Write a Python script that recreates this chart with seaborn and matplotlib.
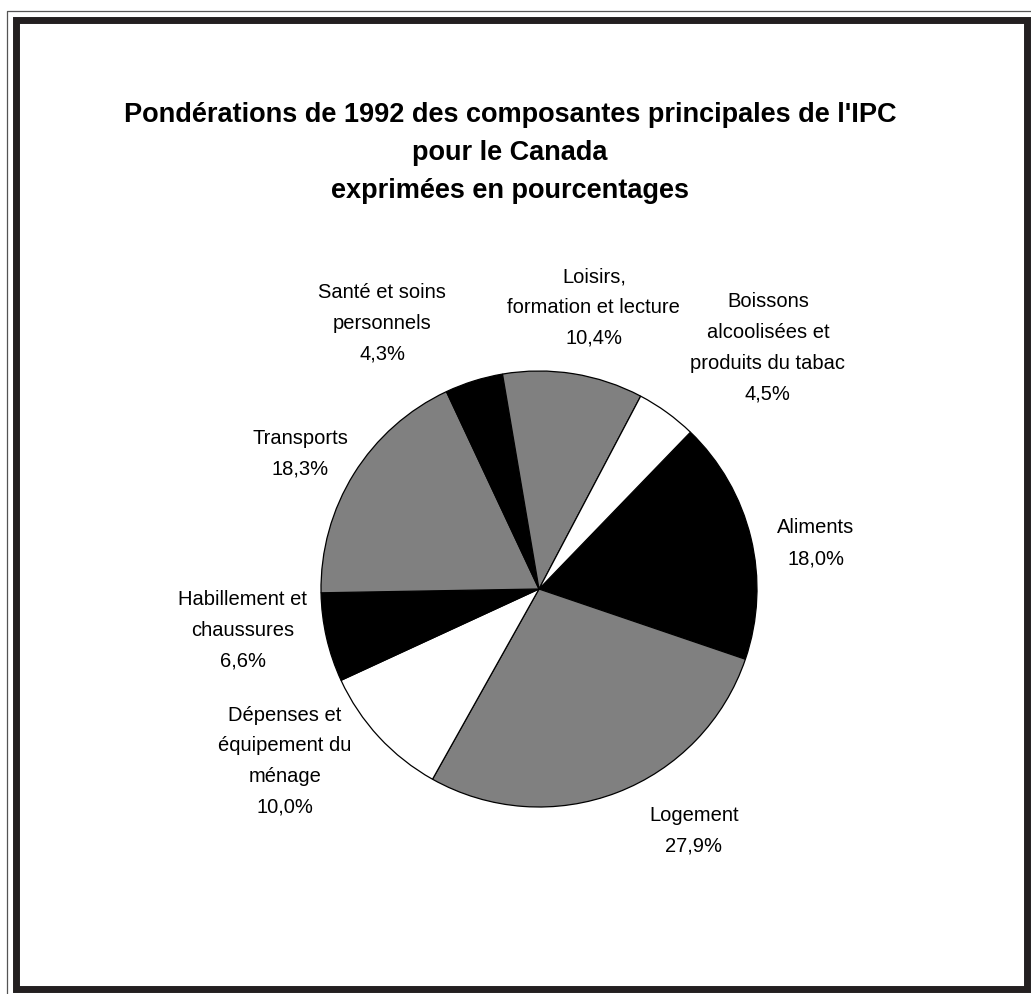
import matplotlib
matplotlib.use("Agg")
import matplotlib.pyplot as plt
import seaborn as sns
from matplotlib.patches import Rectangle
from matplotlib.lines import Line2D

# data
categories = ['Aliments', 'Logement', 'Dépenses et\néquipement du\nménage',
              'Habillement et\nchaussures', 'Transports', 'Santé et soins\npersonnels',
              'Loisirs,\nformation et lecture', 'Boissons\nalcoolisées et\nproduits du tabac']
weights = [18.0, 27.9, 10.0, 6.6, 18.3, 4.3, 10.4, 4.5]
slice_colors = ['black', '#808080', 'white', 'black', '#808080', 'black', '#808080', 'white']

# label positions (pie radius units), picked by eye
label_pos = [(1.27, 0.21), (0.71, -1.11), (-1.165, -0.79), (-1.358, -0.19),
             (-1.096, 0.62), (-0.72, 1.22), (0.252, 1.29), (1.05, 1.106)]

sns.set_style('white')
plt.rcParams['font.family'] = ['Liberation Sans', 'DejaVu Sans']

W, H = 1031, 994
fig = plt.figure(figsize=(W / 100, H / 100), dpi=100)

# pie axes: centre (539, 589) px, radius 218 px
cx, cy, r = 539, 589, 218
ax = fig.add_axes([(cx - r) / W, (H - cy - r) / H, 2 * r / W, 2 * r / H])
ax.pie(weights, colors=slice_colors, startangle=46, counterclock=False, radius=1,
       wedgeprops=dict(edgecolor='black', linewidth=0.9))
ax.set_xlim(-1, 1)
ax.set_ylim(-1, 1)
ax.set_aspect('equal')
ax.axis('off')

for name, w, (lx, ly) in zip(categories, weights, label_pos):
    txt = f"{name}\n{w:.1f}%".replace('.', ',')
    ax.text(lx, ly, txt, ha='center', va='center', fontsize=14.5,
            linespacing=1.78, color='black')

# title
title_lines = ["Pondérations de 1992 des composantes principales de l'IPC",
               "pour le Canada", "exprimées en pourcentages"]
fig.text(510 / W, 1 - 153 / H, "\n".join(title_lines), ha='center', va='center',
         fontsize=19.5, fontweight='bold', linespacing=1.58, color='black')

# frame
fig.add_artist(Line2D([6.5 / W, 6.5 / W, 1], [0, 1 - 10.5 / H, 1 - 10.5 / H],
                      transform=fig.transFigure, color='#555555', linewidth=0.9))
fig.add_artist(Rectangle((16 / W, 5.5 / H), (1027 - 16) / W, (988.5 - 19.5) / H,
                         transform=fig.transFigure, fill=False,
                         edgecolor='#231f20', linewidth=5.0))

fig.savefig('out.png', dpi=100)
